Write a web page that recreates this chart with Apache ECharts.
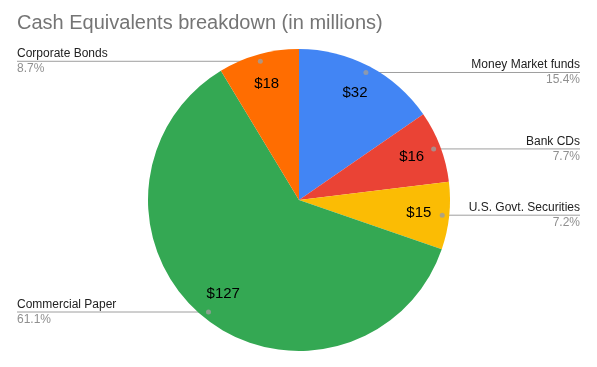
<!DOCTYPE html>
<html>
<head>
<meta charset="utf-8">
<script src="https://cdn.jsdelivr.net/npm/echarts@6/dist/echarts.min.js"></script>
<style>
html,body{margin:0;padding:0;background:#fff;}
#c{width:597px;height:367px;}
</style>
</head>
<body>
<div id="c"></div>
<script>
const categories = ['Money Market funds', 'Bank CDs', 'U.S. Govt. Securities', 'Commercial Paper', 'Corporate Bonds'];
const values = [32, 16, 15, 127, 18];
const colors = ['#4285f4', '#ea4335', '#fbbc04', '#34a853', '#ff6d01'];
const titleText = 'Cash Equivalents breakdown (in millions)';

const CX = 299, CY = 200, R = 151;
const DOT_R = 144;
const total = values.reduce((a, b) => a + b, 0);
let acc = 0;
const mids = values.map(v => { const m = acc + v / 2; acc += v; return m; });

const data = categories.map((n, i) => ({ name: n, value: values[i], itemStyle: { color: colors[i] } }));
const ghost = categories.map((n, i) => ({ name: n, value: values[i] }));

const chart = echarts.init(document.getElementById('c'), null, { renderer: 'canvas' });
chart.setOption({
  animation: false,
  title: {
    text: titleText, left: 12, top: 8,
    textStyle: { fontFamily: 'Liberation Sans, Arial', fontSize: 20, fontWeight: 'normal', color: '#757575' }
  },
  polar: { center: [CX, CY], radius: R },
  angleAxis: { type: 'value', min: 0, max: total, startAngle: 90, clockwise: true, show: false },
  radiusAxis: { type: 'value', min: 0, max: R, show: false },
  series: [
    {
      type: 'pie', center: [CX, CY], radius: [0, R], startAngle: 90, clockwise: true,
      silent: true, label: { show: false }, labelLine: { show: false },
      data: data
    },
    {
      type: 'pie', center: [CX, CY], radius: [84, R], startAngle: 90, clockwise: true,
      silent: true,
      itemStyle: { color: 'rgba(0,0,0,0)' },
      label: { show: true, position: 'inside', formatter: '${c}', fontFamily: 'Liberation Sans, Arial', fontSize: 15, color: '#000' },
      labelLine: { show: false },
      data: ghost
    },
    {
      type: 'pie', center: [CX, CY], radius: [0, DOT_R], startAngle: 90, clockwise: true,
      silent: true,
      itemStyle: { color: 'rgba(0,0,0,0)' },
      label: {
        show: true, position: 'outside', alignTo: 'edge', edgeDistance: 17,
        formatter: function (p) { return '{n|' + p.name + '}\n{p|' + (p.value / total * 100).toFixed(1) + '%}'; },
        rich: {
          n: { fontFamily: 'Liberation Sans, Arial', fontSize: 12, color: '#222', lineHeight: 15 },
          p: { fontFamily: 'Liberation Sans, Arial', fontSize: 12, color: '#909090', lineHeight: 15 }
        }
      },
      labelLine: { show: true, length: 0, length2: 10, lineStyle: { color: '#9e9e9e', width: 1 } },
      labelLayout: function (p) {
        const pts = p.labelLinePoints;
        if (!pts || !pts.length) return {};
        const first = pts[0], last = pts[pts.length - 1];
        const r = p.labelRect;
        const isLeft = last[0] < first[0];
        const endX = isLeft ? r.x : r.x + r.width;
        return { labelLinePoints: [[first[0], first[1]], [endX, first[1]]] };
      },
      data: ghost
    },
    {
      type: 'scatter', coordinateSystem: 'polar', silent: true,
      symbol: 'circle', symbolSize: 5,
      itemStyle: { color: '#9e9e9e' },
      data: mids.map(m => [DOT_R, m]),
      z: 5
    }
  ]
});
</script>
</body>
</html>
